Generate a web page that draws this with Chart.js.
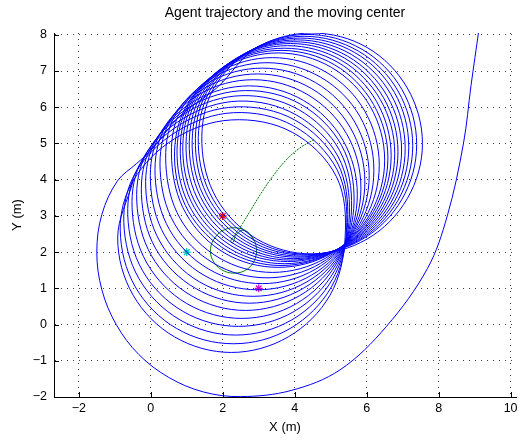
<!DOCTYPE html>
<html>
<head>
<meta charset="UTF-8">
<title>Agent trajectory</title>
<script src="https://cdn.jsdelivr.net/npm/chart.js"></script>
<style>
  html, body { margin: 0; padding: 0; background: #fff; }
</style>
</head>
<body>
<canvas id="trajChart" width="527" height="441"></canvas>

<script>
    // tick values
    const xTicks = [-2, 0, 2, 4, 6, 8, 10];
    const yTicks = [-2, -1, 0, 1, 2, 3, 4, 5, 6, 7, 8];

    // big first arc: from the top right down, round the bottom, up to the left pinch
    const approach = [
        9.12, 8.15, 8.9, 6.6, 8.69, 5.0, 8.24, 3.0, 7.69, 1.55, 6.55, -0.05,
        5.26, -1.25, 3.9, -1.82, 2.5, -1.99, 1.46, -1.86, 0.5, -1.46, -0.33, -0.83,
        -0.96, 0.0, -1.36, 0.96, -1.5, 2.0, -1.36, 3.04, -0.93, 3.96, -0.39, 4.45,
        0.0, 4.8, 0.8, 5.75
    ];

    // the loops, one row per turn, x,y pairs read clockwise from the upper left
    const loops = [
        [1.83,6.53, 2.95,7.65, 4.48,8.05, 6.01,7.65, 7.13,6.53, 7.55,5.00, 7.13,3.48, 6.01,2.36, 4.48,1.95, 2.95,2.36, 1.83,3.48, 1.42,5.00],
        [1.73,6.49, 2.84,7.60, 4.35,8.01, 5.87,7.60, 6.98,6.49, 7.39,4.97, 6.98,3.46, 5.87,2.35, 4.35,1.94, 2.84,2.35, 1.73,3.46, 1.32,4.97],
        [1.64,6.45, 2.75,7.55, 4.26,7.96, 5.77,7.55, 6.87,6.45, 7.28,4.94, 6.87,3.43, 5.77,2.32, 4.26,1.92, 2.75,2.32, 1.64,3.43, 1.24,4.94],
        [1.55,6.41, 2.66,7.51, 4.16,7.91, 5.67,7.51, 6.77,6.41, 7.17,4.90, 6.77,3.40, 5.67,2.29, 4.16,1.89, 2.66,2.29, 1.55,3.40, 1.15,4.90],
        [1.47,6.36, 2.57,7.46, 4.07,7.86, 5.57,7.46, 6.67,6.36, 7.07,4.86, 6.67,3.36, 5.57,2.26, 4.07,1.86, 2.57,2.26, 1.47,3.36, 1.07,4.86],
        [1.38,6.31, 2.48,7.41, 3.97,7.81, 5.47,7.41, 6.57,6.31, 6.97,4.82, 6.57,3.32, 5.47,2.22, 3.97,1.82, 2.48,2.22, 1.38,3.32, 0.98,4.82],
        [1.29,6.26, 2.39,7.36, 3.88,7.76, 5.38,7.36, 6.47,6.26, 6.87,4.77, 6.47,3.27, 5.38,2.18, 3.88,1.78, 2.39,2.18, 1.29,3.27, 0.89,4.77],
        [1.21,6.21, 2.31,7.30, 3.80,7.70, 5.29,7.30, 6.38,6.21, 6.78,4.72, 6.38,3.23, 5.29,2.13, 3.80,1.74, 2.31,2.13, 1.21,3.23, 0.82,4.72],
        [1.13,6.15, 2.22,7.24, 3.71,7.63, 5.20,7.24, 6.28,6.15, 6.68,4.66, 6.28,3.17, 5.20,2.08, 3.71,1.68, 2.22,2.08, 1.13,3.17, 0.73,4.66],
        [1.05,6.08, 2.14,7.17, 3.62,7.57, 5.11,7.17, 6.19,6.08, 6.59,4.60, 6.19,3.12, 5.11,2.03, 3.62,1.63, 2.14,2.03, 1.05,3.12, 0.66,4.60],
        [0.98,6.02, 2.06,7.10, 3.54,7.50, 5.02,7.10, 6.10,6.02, 6.50,4.54, 6.10,3.06, 5.02,1.97, 3.54,1.58, 2.06,1.97, 0.98,3.06, 0.58,4.54],
        [0.82,5.89, 1.90,6.97, 3.38,7.37, 4.87,6.97, 5.95,5.89, 6.35,4.40, 5.95,2.92, 4.87,1.84, 3.38,1.44, 1.90,1.84, 0.82,2.92, 0.42,4.40],
        [0.66,5.75, 1.75,6.83, 3.23,7.23, 4.72,6.83, 5.81,5.75, 6.20,4.26, 5.81,2.78, 4.72,1.69, 3.23,1.29, 1.75,1.69, 0.66,2.78, 0.26,4.26],
        [0.52,5.59, 1.61,6.68, 3.10,7.08, 4.58,6.68, 5.67,5.59, 6.07,4.11, 5.67,2.62, 4.58,1.53, 3.10,1.13, 1.61,1.53, 0.52,2.62, 0.12,4.11],
        [0.39,5.43, 1.48,6.52, 2.97,6.92, 4.46,6.52, 5.55,5.43, 5.95,3.94, 5.55,2.45, 4.46,1.36, 2.97,0.96, 1.48,1.36, 0.39,2.45, -0.01,3.94],
        [0.26,5.27, 1.35,6.36, 2.85,6.76, 4.34,6.36, 5.44,5.27, 5.84,3.77, 5.44,2.28, 4.34,1.18, 2.85,0.78, 1.35,1.18, 0.26,2.28, -0.14,3.77],
        [0.14,5.09, 1.24,6.19, 2.74,6.59, 4.24,6.19, 5.34,5.09, 5.74,3.59, 5.34,2.09, 4.24,1.00, 2.74,0.59, 1.24,1.00, 0.14,2.09, -0.26,3.59],
        [0.02,4.92, 1.12,6.03, 2.63,6.46, 4.17,6.08, 5.30,4.95, 5.65,3.41, 5.25,1.90, 4.14,0.80, 2.63,0.39, 1.12,0.80, 0.02,1.90, -0.39,3.41],
        [-0.11,4.75, 1.00,5.86, 2.53,6.32, 4.10,5.94, 5.25,4.80, 5.58,3.22, 5.17,1.70, 4.05,0.58, 2.53,0.17, 1.00,0.58, -0.11,1.70, -0.52,3.22],
        [-0.23,4.57, 0.90,5.69, 2.44,6.17, 4.04,5.79, 5.21,4.63, 5.52,3.03, 5.11,1.49, 3.98,0.36, 2.44,-0.05, 0.90,0.36, -0.23,1.49, -0.64,3.03],
        [-0.33,4.38, 0.81,5.52, 2.36,6.01, 4.00,5.65, 5.19,4.46, 5.47,2.82, 5.06,1.27, 3.92,0.13, 2.36,-0.29, 0.81,0.13, -0.33,1.27, -0.75,2.82],
        [-0.43,4.18, 0.72,5.33, 2.30,5.85, 3.96,5.49, 5.18,4.27, 5.44,2.61, 5.02,1.04, 3.87,-0.11, 2.30,-0.53, 0.72,-0.11, -0.43,1.04, -0.85,2.61],
        [-0.49,3.97, 0.66,5.13, 2.24,5.65, 3.93,5.31, 5.16,4.08, 5.40,2.39, 4.98,0.81, 3.82,-0.34, 2.24,-0.77, 0.66,-0.34, -0.49,0.81, -0.92,2.39]
    ];
    const trajEnd = [-0.49, 3.97];

    // moving center (green): straight run, then the small curl and circle
    const centerRun = [
        4.54,5.11, 4.12,4.86, 3.74,4.52, 3.38,4.08, 3.05,3.60, 2.76,3.13, 2.52,2.74,
        2.35,2.50, 2.25,2.36
    ];
    const centerCircle = [
        2.25,2.36, 2.22,2.29, 2.27,2.26, 2.31,2.31, 2.35,2.45, 2.55,2.60, 2.75,2.50,
        2.92,2.20, 2.90,1.82, 2.68,1.53, 2.32,1.42, 1.96,1.52, 1.72,1.78, 1.66,2.10,
        1.80,2.42, 2.05,2.62, 2.38,2.67, 2.68,2.56, 2.88,2.30
    ];

    // the three star markers
    const redStar = [2, 3];
    const cyanStar = [1, 2];
    const magentaStar = [3, 1];

    function toPoints(flat) {
        const pts = [];
        for (let i = 0; i < flat.length; i += 2) {
            pts.push({ x: flat[i], y: flat[i + 1] });
        }
        return pts;
    }

    // whole agent path
    let agentPath = toPoints(approach);
    loops.forEach(function (loop) {
        agentPath = agentPath.concat(toPoints(loop));
    });
    agentPath.push({ x: trajEnd[0], y: trajEnd[1] });

    const fontFamily = '"Liberation Sans", Arial, Helvetica, sans-serif';

    function fmtTick(v) {
        return v < 0 ? '\u2212' + Math.abs(v) : String(v);
    }

    function star(pos, color) {
        return {
            data: [{ x: pos[0], y: pos[1] }],
            pointStyle: 'star',
            pointRadius: 4,
            borderColor: color,
            backgroundColor: color,
            borderWidth: 1.2
        };
    }

    // MATLAB style inward tick marks
    const inwardTicks = {
        id: 'inwardTicks',
        afterDraw(chart) {
            const ctx = chart.ctx;
            const area = chart.chartArea;
            const xs = chart.scales.x;
            const ys = chart.scales.y;
            ctx.save();
            ctx.strokeStyle = '#000';
            ctx.lineWidth = 1;
            ctx.beginPath();
            xTicks.forEach(function (v) {
                const px = Math.round(xs.getPixelForValue(v)) + 0.5;
                ctx.moveTo(px, area.bottom);
                ctx.lineTo(px, area.bottom - 5);
            });
            yTicks.forEach(function (v) {
                const py = Math.round(ys.getPixelForValue(v)) + 0.5;
                ctx.moveTo(area.left, py);
                ctx.lineTo(area.left + 5, py);
            });
            ctx.stroke();
            ctx.restore();
        }
    };

    const config = {
        type: 'scatter',
        data: {
            datasets: [
                {
                    label: 'agent',
                    data: agentPath,
                    showLine: true,
                    borderColor: '#0000ff',
                    borderWidth: 1,
                    pointRadius: 0,
                    tension: 0.35
                },
                {
                    label: 'center run',
                    data: toPoints(centerRun),
                    showLine: true,
                    borderColor: '#007a00',
                    borderWidth: 1,
                    borderDash: [2, 1],
                    pointRadius: 0,
                    tension: 0.4
                },
                {
                    label: 'center circle',
                    data: toPoints(centerCircle),
                    showLine: true,
                    borderColor: '#008000',
                    borderWidth: 1,
                    pointRadius: 0,
                    tension: 0.4
                },
                star(redStar, '#ff0000'),
                star(cyanStar, '#00bfbf'),
                star(magentaStar, '#d000d0')
            ]
        },
        options: {
            responsive: false,
            animation: false,
            devicePixelRatio: 1,
            layout: { padding: { left: 0, right: 11, top: 0, bottom: 0 } },
            plugins: {
                legend: { display: false },
                tooltip: { enabled: false },
                title: {
                    display: true,
                    text: 'Agent trajectory and the moving center',
                    fullSize: false,
                    color: '#000',
                    font: { family: fontFamily, size: 14, weight: 'normal' },
                    padding: { top: 4.6, bottom: 11.6 }
                }
            },
            scales: {
                x: {
                    type: 'linear',
                    min: -2.69,
                    max: 10.15,
                    afterBuildTicks: function (axis) {
                        axis.ticks = xTicks.map(function (v) { return { value: v }; });
                    },
                    afterFit: function (scale) { scale.height = 44; },
                    ticks: {
                        autoSkip: false,
                        maxRotation: 0,
                        padding: 4,
                        color: '#000',
                        font: { family: fontFamily, size: 12.5 },
                        callback: fmtTick
                    },
                    grid: { color: 'rgba(0,0,0,0.75)', lineWidth: 1, drawTicks: false },
                    border: { display: true, color: '#000', width: 1, dash: [1, 5] },
                    title: {
                        display: true,
                        text: 'X (m)',
                        color: '#000',
                        font: { family: fontFamily, size: 13 },
                        padding: { top: 0, bottom: 6 }
                    }
                },
                y: {
                    type: 'linear',
                    min: -2,
                    max: 8.05,
                    afterBuildTicks: function (axis) {
                        axis.ticks = yTicks.map(function (v) { return { value: v }; });
                    },
                    afterFit: function (scale) { scale.width = 54; },
                    ticks: {
                        autoSkip: false,
                        padding: 7,
                        color: '#000',
                        font: { family: fontFamily, size: 12.5 },
                        callback: fmtTick
                    },
                    grid: { color: 'rgba(0,0,0,0.75)', lineWidth: 1, drawTicks: false },
                    border: { display: true, color: '#000', width: 1, dash: [1, 5] },
                    title: {
                        display: true,
                        text: 'Y (m)',
                        color: '#000',
                        font: { family: fontFamily, size: 13 },
                        padding: { top: 10, bottom: 0 }
                    }
                }
            }
        },
        plugins: [inwardTicks]
    };

    const ctx = document.getElementById('trajChart').getContext('2d');
    new Chart(ctx, config);
</script>
</body>
</html>
